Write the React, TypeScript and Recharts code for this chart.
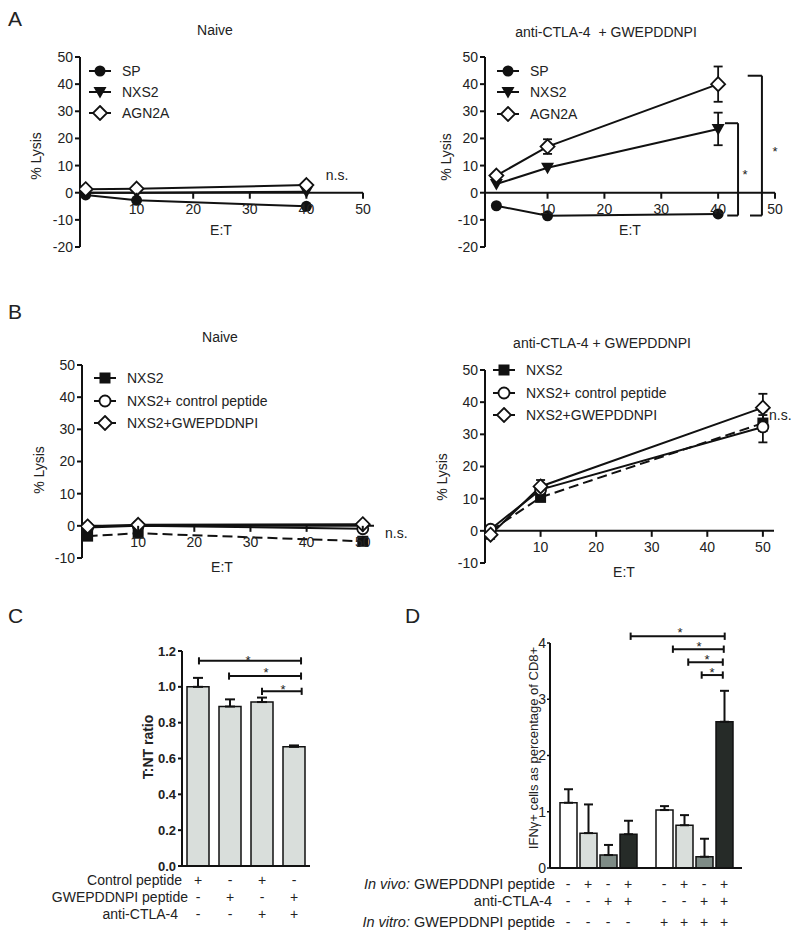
import React from "react"
import { LineChart, Line, BarChart, Bar, XAxis, YAxis, ErrorBar, ReferenceLine } from "recharts"

const FONT = '"Liberation Sans", Arial, Helvetica, sans-serif'
const INK = "#111"
const TEXT = "#222"

// panel A: % lysis at E:T 1, 10, 40
const etA = [1, 10, 40]
const aNaiveSP = [-0.8, -2.8, -5.0]
const aNaiveNXS2 = [0, 0, 0.4]
const aNaiveAGN2A = [1.3, 1.5, 2.8]
const aTreatSP = [-4.8, -8.5, -7.8]
const aTreatNXS2 = [3.2, 9.2, 23.5]
const aTreatNXS2Err = [0, 0, 6]
const aTreatAGN2A = [6.3, 17, 40]
const aTreatAGN2AErr = [0, 2.7, 6.5]

// panel B: % lysis at E:T 1, 10, 50
const etB = [1, 10, 50]
const bNaiveNXS2 = [-3.2, -2.3, -4.8]
const bNaiveControl = [-0.5, 0, -0.9]
const bNaiveGwep = [-0.2, 0.3, 0.5]
const bTreatNXS2 = [0, 10.4, 33.5]
const bTreatNXS2Err = [0, 0, 2.5]
const bTreatControl = [0.5, 12.8, 32.3]
const bTreatControlErr = [0, 0, 4.8]
const bTreatGwep = [-1.2, 13.8, 38.3]
const bTreatGwepErr = [1.3, 2, 4.3]

const lysisXTicks = [10, 20, 30, 40, 50]
const aYTicks = [-20, -10, 0, 10, 20, 30, 40, 50]
const bYTicks = [-10, 0, 10, 20, 30, 40, 50]

// panel C: T:NT ratio
const cCategories = ["ctrl", "gwep", "ctrl+aCTLA4", "gwep+aCTLA4"]
const cRatio = [1.0, 0.89, 0.915, 0.665]
const cRatioErr = [0.05, 0.04, 0.025, 0.008]
const cControlPeptide = ["+", "-", "+", "-"]
const cGwepPeptide = ["-", "+", "-", "+"]
const cAntiCTLA4 = ["-", "-", "+", "+"]
const cYTicks = [0, 0.2, 0.4, 0.6, 0.8, 1.0, 1.2]

// panel D: IFNy+ % of CD8+, grouped by in vitro peptide
const dGroups = ["no in vitro peptide", "in vitro peptide"]
const dNone = [1.16, 1.03]
const dNoneErr = [0.24, 0.07]
const dGwep = [0.62, 0.76]
const dGwepErr = [0.51, 0.18]
const dAnti = [0.23, 0.2]
const dAntiErr = [0.18, 0.32]
const dCombo = [0.6, 2.6]
const dComboErr = [0.24, 0.55]
const dInVivoPeptide = ["-", "+", "-", "+"]
const dInVivoAnti = ["-", "-", "+", "+"]
const dInVitroPeptide = [["-", "-", "-", "-"], ["+", "+", "+", "+"]]
const dYTicks = [0, 1, 2, 3, 4]

// significance brackets, in data units (bar panels: category i spans i..i+1)
const aBrackets = [
  { x1: 41.2, x2: 43.5, yTop: 25.6, yBottom: -8.4 },
  { x1: 45.2, x2: 47.7, yTop: 43.1, yBottom: -8.4 },
]
const cBrackets = [
  { x1: 0.53, x2: 3.72, y: 1.145 },
  { x1: 1.47, x2: 3.72, y: 1.06 },
  { x1: 2.5, x2: 3.74, y: 0.975 },
]
const dBrackets = [
  { x1: 0.84, x2: 1.82, y: 4.12 },
  { x1: 1.28, x2: 1.81, y: 3.89 },
  { x1: 1.44, x2: 1.8, y: 3.66 },
  { x1: 1.58, x2: 1.8, y: 3.43 },
]

type MarkerKind = "dot" | "tri" | "diamond" | "square" | "ring"

function Marker({ kind, cx, cy }: { kind: MarkerKind; cx: number; cy: number }) {
  if (kind === "dot") return <circle cx={cx} cy={cy} r={5.5} fill={INK} />
  if (kind === "ring") return <circle cx={cx} cy={cy} r={5.5} fill="#fff" stroke={INK} strokeWidth={1.8} />
  if (kind === "square") return <rect x={cx - 5.5} y={cy - 5.5} width={11} height={11} fill={INK} />
  if (kind === "tri")
    return <polygon points={`${cx - 6.5},${cy - 5} ${cx + 6.5},${cy - 5} ${cx},${cy + 6.5}`} fill={INK} />
  return (
    <polygon
      points={`${cx},${cy - 7} ${cx + 7},${cy} ${cx},${cy + 7} ${cx - 7},${cy}`}
      fill="#fff"
      stroke={INK}
      strokeWidth={1.8}
    />
  )
}

function T({ x, y, children, anchor = "middle", size = 14, bold, italic, rotate }: any) {
  const tx = anchor === "middle" ? "-50%" : anchor === "end" ? "-100%" : "0"
  return (
    <div
      style={{
        position: "absolute",
        left: x,
        top: y,
        transform: `translate(${tx},-50%)${rotate ? ` rotate(${rotate}deg)` : ""}`,
        fontSize: size,
        fontWeight: bold ? "bold" : "normal",
        fontStyle: italic ? "italic" : "normal",
        whiteSpace: "nowrap",
        lineHeight: 1,
        color: TEXT,
      }}
    >
      {children}
    </div>
  )
}

function SeriesLegend({ left, top, rowH, items }: any) {
  return (
    <div style={{ position: "absolute", left, top }}>
      {items.map((it: any) => (
        <div key={it.key} style={{ display: "flex", alignItems: "center", height: rowH, fontSize: 14 }}>
          <svg width={26} height={16}>
            <line x1={2} x2={24} y1={8} y2={8} stroke={INK} strokeWidth={2} />
            <Marker kind={it.marker} cx={13} cy={8} />
          </svg>
          <span style={{ marginLeft: 9 }}>{it.name}</span>
        </div>
      ))}
    </div>
  )
}

function LysisPanel({ box, margin, yAxisWidth, xDomain, yDomain, yTicks, rows, series, children }: any) {
  const plotH = box.height - margin.top - margin.bottom - 1
  const zeroY = margin.top + (plotH * yDomain[1]) / (yDomain[1] - yDomain[0])
  const crossTick = (p: any) => (
    <g>
      <line x1={p.x} x2={p.x} y1={zeroY} y2={zeroY + 6} stroke={INK} strokeWidth={2} />
      <text x={p.x} y={zeroY + 21} textAnchor="middle" fontSize={14} fill={TEXT}>
        {p.payload.value}
      </text>
    </g>
  )
  return (
    <div style={{ position: "absolute", left: box.left, top: box.top }}>
      <LineChart width={box.width} height={box.height} data={rows} margin={margin}>
        <XAxis
          dataKey="x"
          type="number"
          domain={xDomain}
          ticks={lysisXTicks}
          allowDataOverflow
          interval={0}
          height={1}
          axisLine={false}
          tickLine={false}
          tick={crossTick}
        />
        <YAxis
          type="number"
          domain={yDomain}
          ticks={yTicks}
          interval={0}
          width={yAxisWidth}
          tickSize={5}
          axisLine={{ stroke: INK, strokeWidth: 2 }}
          tickLine={{ stroke: INK, strokeWidth: 2 }}
          tick={{ fill: TEXT, fontSize: 14 }}
        />
        <ReferenceLine y={0} stroke={INK} strokeWidth={2} />
        {series.map((s: any) => (
          <Line
            key={s.key}
            dataKey={s.key}
            type="linear"
            stroke={INK}
            strokeWidth={2}
            strokeDasharray={s.dashed ? "10 5" : undefined}
            activeDot={false}
            isAnimationActive={false}
            dot={(p: any) => (
              <g key={`${s.key}-${p.index}`}>
                <Marker kind={s.marker} cx={p.cx} cy={p.cy} />
              </g>
            )}
          >
            {s.errKey && <ErrorBar dataKey={s.errKey} width={4.5} stroke={INK} strokeWidth={1.8} direction="y" />}
          </Line>
        ))}
        {children}
      </LineChart>
    </div>
  )
}

function bracketLines(list: any[], cap: number) {
  return list.map((b, i) => [
    <ReferenceLine key={`h${i}`} xAxisId="num" segment={[{ x: b.x1, y: b.y }, { x: b.x2, y: b.y }]} stroke={INK} strokeWidth={2} ifOverflow="visible" />,
    <ReferenceLine key={`l${i}`} xAxisId="num" segment={[{ x: b.x1, y: b.y - cap }, { x: b.x1, y: b.y + cap }]} stroke={INK} strokeWidth={2} ifOverflow="visible" />,
    <ReferenceLine key={`r${i}`} xAxisId="num" segment={[{ x: b.x2, y: b.y - cap }, { x: b.x2, y: b.y + cap }]} stroke={INK} strokeWidth={2} ifOverflow="visible" />,
  ])
}

const aSeries = [
  { key: "sp", name: "SP", marker: "dot" },
  { key: "nxs2", name: "NXS2", marker: "tri" },
  { key: "agn2a", name: "AGN2A", marker: "diamond" },
]
const aSeriesErr = [
  { key: "sp", name: "SP", marker: "dot" },
  { key: "nxs2", name: "NXS2", marker: "tri", errKey: "nxs2Err" },
  { key: "agn2a", name: "AGN2A", marker: "diamond", errKey: "agn2aErr" },
]
const bSeries = [
  { key: "nxs2", name: "NXS2", marker: "square", dashed: true },
  { key: "ctrl", name: "NXS2+ control peptide", marker: "ring" },
  { key: "gwep", name: "NXS2+GWEPDDNPI", marker: "diamond" },
]
const bSeriesErr = [
  { key: "nxs2", name: "NXS2", marker: "square", dashed: true, errKey: "nxs2Err" },
  { key: "ctrl", name: "NXS2+ control peptide", marker: "ring", errKey: "ctrlErr" },
  { key: "gwep", name: "NXS2+GWEPDDNPI", marker: "diamond", errKey: "gwepErr" },
]

const aNaiveRows = etA.map((x, i) => ({ x, sp: aNaiveSP[i], nxs2: aNaiveNXS2[i], agn2a: aNaiveAGN2A[i] }))
const aTreatRows = etA.map((x, i) => ({
  x,
  sp: aTreatSP[i],
  nxs2: aTreatNXS2[i],
  nxs2Err: aTreatNXS2Err[i],
  agn2a: aTreatAGN2A[i],
  agn2aErr: aTreatAGN2AErr[i],
}))
const bNaiveRows = etB.map((x, i) => ({ x, nxs2: bNaiveNXS2[i], ctrl: bNaiveControl[i], gwep: bNaiveGwep[i] }))
const bTreatRows = etB.map((x, i) => ({
  x,
  nxs2: bTreatNXS2[i],
  nxs2Err: bTreatNXS2Err[i],
  ctrl: bTreatControl[i],
  ctrlErr: bTreatControlErr[i],
  gwep: bTreatGwep[i],
  gwepErr: bTreatGwepErr[i],
}))
const cRows = cCategories.map((cat, i) => ({ cat, pos: i + 0.5, ratio: cRatio[i], err: [0, cRatioErr[i]] }))
const dRows = dGroups.map((group, i) => ({
  group,
  pos: i + 0.5,
  none: dNone[i],
  noneErr: [0, dNoneErr[i]],
  gwep: dGwep[i],
  gwepErr: [0, dGwepErr[i]],
  anti: dAnti[i],
  antiErr: [0, dAntiErr[i]],
  combo: dCombo[i],
  comboErr: [0, dComboErr[i]],
}))
const dSeries = [
  { key: "none", fill: "#ffffff" },
  { key: "gwep", fill: "#d9dedb" },
  { key: "anti", fill: "#7e8b86" },
  { key: "combo", fill: "#262b28" },
]

// layout of the bar panels (page pixels), used to place the +/- rows under the bars
const C_PLOT_LEFT = 182
const C_CAT_W = 32
const D_PLOT_LEFT = 550
const D_GROUP_W = 96
const D_BAR_STEP = 20

export default function App() {
  return (
    <div
      style={{
        position: "absolute",
        left: 0,
        top: 0,
        width: 800,
        height: 945,
        background: "#fff",
        fontFamily: FONT,
        color: TEXT,
        overflow: "hidden",
      }}
    >
      {/* ---------- A ---------- */}
      <T x={8} y={18} anchor="start" size={21}>A</T>
      <T x={215} y={30}>Naive</T>
      <T x={606} y={32}>anti-CTLA-4&nbsp;&nbsp;+ GWEPDDNPI</T>

      <LysisPanel
        box={{ left: 0, top: 0, width: 400, height: 260 }}
        margin={{ top: 57, right: 37, bottom: 12, left: 30 }}
        yAxisWidth={50}
        xDomain={[0, 50]}
        yDomain={[-20, 50]}
        yTicks={aYTicks}
        rows={aNaiveRows}
        series={aSeries}
      />
      <LysisPanel
        box={{ left: 400, top: 0, width: 400, height: 260 }}
        margin={{ top: 57, right: 25, bottom: 12, left: 35 }}
        yAxisWidth={50}
        xDomain={[-1, 50]}
        yDomain={[-20, 50]}
        yTicks={aYTicks}
        rows={aTreatRows}
        series={aSeriesErr}
      >
        {aBrackets.map((b, i) => [
          <ReferenceLine key={`v${i}`} segment={[{ x: b.x2, y: b.yTop }, { x: b.x2, y: b.yBottom }]} stroke={INK} strokeWidth={2} ifOverflow="visible" />,
          <ReferenceLine key={`t${i}`} segment={[{ x: b.x1, y: b.yTop }, { x: b.x2, y: b.yTop }]} stroke={INK} strokeWidth={2} ifOverflow="visible" />,
          <ReferenceLine key={`b${i}`} segment={[{ x: b.x1 + 0.4, y: b.yBottom }, { x: b.x2, y: b.yBottom }]} stroke={INK} strokeWidth={2} ifOverflow="visible" />,
        ])}
      </LysisPanel>

      <SeriesLegend left={87} top={60} rowH={21} items={aSeries} />
      <SeriesLegend left={495} top={60} rowH={21.5} items={aSeries} />

      <T x={36} y={156} rotate={-90}>% Lysis</T>
      <T x={446} y={157} rotate={-90}>% Lysis</T>
      <T x={221} y={230}>E:T</T>
      <T x={630} y={230}>E:T</T>
      <T x={337} y={175}>n.s.</T>
      <T x={745} y={174} size={13}>*</T>
      <T x={775} y={151} size={13}>*</T>

      {/* ---------- B ---------- */}
      <T x={8} y={311} anchor="start" size={21}>B</T>
      <T x={220} y={337}>Naive</T>
      <T x={602} y={343}>anti-CTLA-4 + GWEPDDNPI</T>

      <LysisPanel
        box={{ left: 0, top: 280, width: 400, height: 300 }}
        margin={{ top: 85, right: 26, bottom: 21, left: 32 }}
        yAxisWidth={50}
        xDomain={[0, 52]}
        yDomain={[-10, 50]}
        yTicks={bYTicks}
        rows={bNaiveRows}
        series={bSeries}
      />
      <LysisPanel
        box={{ left: 400, top: 280, width: 400, height: 300 }}
        margin={{ top: 90, right: 26, bottom: 16, left: 35 }}
        yAxisWidth={50}
        xDomain={[0, 52]}
        yDomain={[-10, 50]}
        yTicks={bYTicks}
        rows={bTreatRows}
        series={bSeriesErr}
      />

      <SeriesLegend left={92} top={367} rowH={22.5} items={bSeries} />
      <SeriesLegend left={491} top={359} rowH={22.5} items={bSeries} />

      <T x={39} y={470} rotate={-90}>% Lysis</T>
      <T x={442} y={477} rotate={-90}>% Lysis</T>
      <T x={222} y={567}>E:T</T>
      <T x={624} y={572}>E:T</T>
      <T x={385} y={533} anchor="start">n.s.</T>
      <T x={769} y={415} anchor="start">n.s.</T>

      {/* ---------- C ---------- */}
      <T x={8} y={615} anchor="start" size={21}>C</T>
      <div style={{ position: "absolute", left: 100, top: 600 }}>
        <BarChart width={250} height={280} data={cRows} margin={{ top: 51, right: 40, bottom: 12, left: 42 }}>
          <XAxis dataKey="cat" height={2} tick={false} tickLine={false} axisLine={{ stroke: INK, strokeWidth: 2 }} />
          <XAxis xAxisId="num" dataKey="pos" type="number" domain={[0, 4]} allowDataOverflow hide />
          <YAxis
            type="number"
            domain={[0, 1.2]}
            ticks={cYTicks}
            interval={0}
            width={40}
            tickSize={4}
            tickFormatter={(v: number) => v.toFixed(1)}
            axisLine={{ stroke: INK, strokeWidth: 2 }}
            tickLine={{ stroke: INK, strokeWidth: 2 }}
            tick={{ fill: TEXT, fontSize: 13, fontWeight: "bold" }}
          />
          <Bar dataKey="ratio" fill="#d9dedb" stroke={INK} strokeWidth={1.5} barSize={22} isAnimationActive={false}>
            <ErrorBar dataKey="err" width={5} stroke={INK} strokeWidth={2} direction="y" />
          </Bar>
          {bracketLines(cBrackets, 0.02)}
        </BarChart>
      </div>
      <T x={148} y={747} rotate={-90} bold>T:NT ratio</T>
      <T x={248} y={660} size={13}>*</T>
      <T x={266} y={672} size={13}>*</T>
      <T x={283} y={689} size={13}>*</T>
      <T x={182} y={880} anchor="end">Control peptide</T>
      <T x={188} y={897} anchor="end">GWEPDDNPI peptide</T>
      <T x={178} y={914} anchor="end">anti-CTLA-4</T>
      {[cControlPeptide, cGwepPeptide, cAntiCTLA4].map((row, r) =>
        row.map((s, i) => (
          <T key={`c${r}-${i}`} x={C_PLOT_LEFT + C_CAT_W * (i + 0.5)} y={[880, 897, 914][r]}>
            {s}
          </T>
        ))
      )}

      {/* ---------- D ---------- */}
      <T x={405} y={615} anchor="start" size={21}>D</T>
      <div style={{ position: "absolute", left: 480, top: 600 }}>
        <BarChart
          width={300}
          height={280}
          data={dRows}
          margin={{ top: 43, right: 38, bottom: 4, left: 40 }}
          barGap={3}
        >
          <XAxis
            dataKey="group"
            height={8}
            tick={false}
            tickSize={5}
            tickLine={{ stroke: INK, strokeWidth: 1.5 }}
            axisLine={{ stroke: INK, strokeWidth: 2 }}
          />
          <XAxis xAxisId="num" dataKey="pos" type="number" domain={[0, 2]} allowDataOverflow hide />
          <YAxis
            type="number"
            domain={[0, 4]}
            ticks={dYTicks}
            interval={0}
            width={30}
            tickSize={3}
            tickMargin={1}
            axisLine={{ stroke: INK, strokeWidth: 2 }}
            tickLine={{ stroke: INK, strokeWidth: 1.5 }}
            tick={{ fill: TEXT, fontSize: 14 }}
          />
          {dSeries.map((s) => (
            <Bar key={s.key} dataKey={s.key} fill={s.fill} stroke={INK} strokeWidth={1.5} barSize={17} isAnimationActive={false}>
              <ErrorBar dataKey={`${s.key}Err`} width={4.5} stroke={INK} strokeWidth={2} direction="y" />
            </Bar>
          ))}
          {bracketLines(dBrackets, 0.065)}
        </BarChart>
      </div>
      <T x={533} y={748} rotate={-90} size={13}>IFNγ+ cells as percentage of CD8+</T>
      <T x={680} y={632} size={13}>*</T>
      <T x={699} y={646} size={13}>*</T>
      <T x={707} y={659} size={13}>*</T>
      <T x={712} y={672} size={13}>*</T>
      <T x={555} y={884} anchor="end" size={14.5}>
        <i>In vivo:</i> GWEPDDNPI peptide
      </T>
      <T x={552} y={901} anchor="end" size={14.5}>anti-CTLA-4</T>
      <T x={555} y={922} anchor="end" size={14.5}>
        <i>In vitro:</i> GWEPDDNPI peptide
      </T>
      {dGroups.map((_, g) =>
        [dInVivoPeptide, dInVivoAnti, dInVitroPeptide[g]].map((row, r) =>
          row.map((s, k) => (
            <T
              key={`d${g}-${r}-${k}`}
              x={D_PLOT_LEFT + D_GROUP_W * (g + 0.5) + (k - 1.5) * D_BAR_STEP}
              y={[884, 901, 922][r]}
            >
              {s}
            </T>
          ))
        )
      )}
    </div>
  )
}
